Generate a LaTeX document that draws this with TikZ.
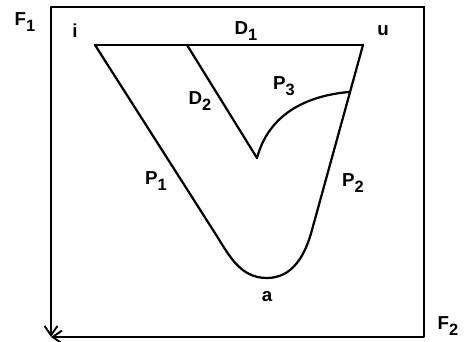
\documentclass[tikz,border=0pt]{standalone}
\usepackage{fontspec}
\setmainfont{Liberation Sans}
\usetikzlibrary{arrows.meta}
\tikzset{
  % outline of the region
  Edge/.style={line width=1.9pt,line join=round,line cap=round},
  % frame and axes
  Frame/.style={line width=1.7pt,line cap=round},
  Axis/.style={-{Straight Barb[length=8pt,width=11pt,line width=1.6pt]},
               line width=1.7pt},
  % letters
  Lbl/.style={font=\fontsize{16}{18}\selectfont\bfseries,inner sep=0pt},
}
\newcommand{\sublab}[2]{#1\raisebox{-0.6ex}{\fontsize{14}{16}\selectfont#2}}

\begin{document}
\begin{tikzpicture}[x=0.03cm,y=0.03cm]
  \useasboundingbox (0,0) rectangle (466,342);
  % frame corners
  \coordinate (tl) at (51,335);
  \coordinate (tr) at (424,335);
  \coordinate (br) at (424,5);
  \coordinate (bl) at (51,5);
  \draw[Frame] (tl) -- (tr) -- (br);
  \draw[Axis] (tl) -- (bl);
  \draw[Axis] (br) -- (bl);
  % region points
  \coordinate (pi)  at (95,297);
  \coordinate (pu)  at (363,297);
  \coordinate (pd)  at (187,297);
  \coordinate (tip) at (257,184);
  \coordinate (jn)  at (349,250);
  \coordinate (pa)  at (267,64);
  \coordinate (lo1) at (213,112);
  \coordinate (lo2) at (312,112);
  \draw[Edge] (pi) -- (pu);
  \draw[Edge] (pi) -- (lo1) to[out=-57,in=180] (pa)
              to[out=0,in=-105] (lo2) -- (pu);
  \draw[Edge] (pd) -- (tip);
  \draw[Edge] (tip) to[out=75,in=185] (jn);
  % labels
  \node[Lbl] (lf1) at (25,320)  {\sublab{F}{1}};
  \node[Lbl] (lf2) at (448,16)  {\sublab{F}{2}};
  \node[Lbl] (li)  at (75,311)  {i};
  \node[Lbl] (lu)  at (383,311) {u};
  \node[Lbl] (ld1) at (246,311) {\sublab{D}{1}};
  \node[Lbl] (ld2) at (200,241) {\sublab{D}{2}};
  \node[Lbl] (lp3) at (284,256) {\sublab{P}{3}};
  \node[Lbl] (lp1) at (156,161) {\sublab{P}{1}};
  \node[Lbl] (lp2) at (353,159) {\sublab{P}{2}};
  \node[Lbl] (la)  at (267,45)  {a};
\end{tikzpicture}
\end{document}
